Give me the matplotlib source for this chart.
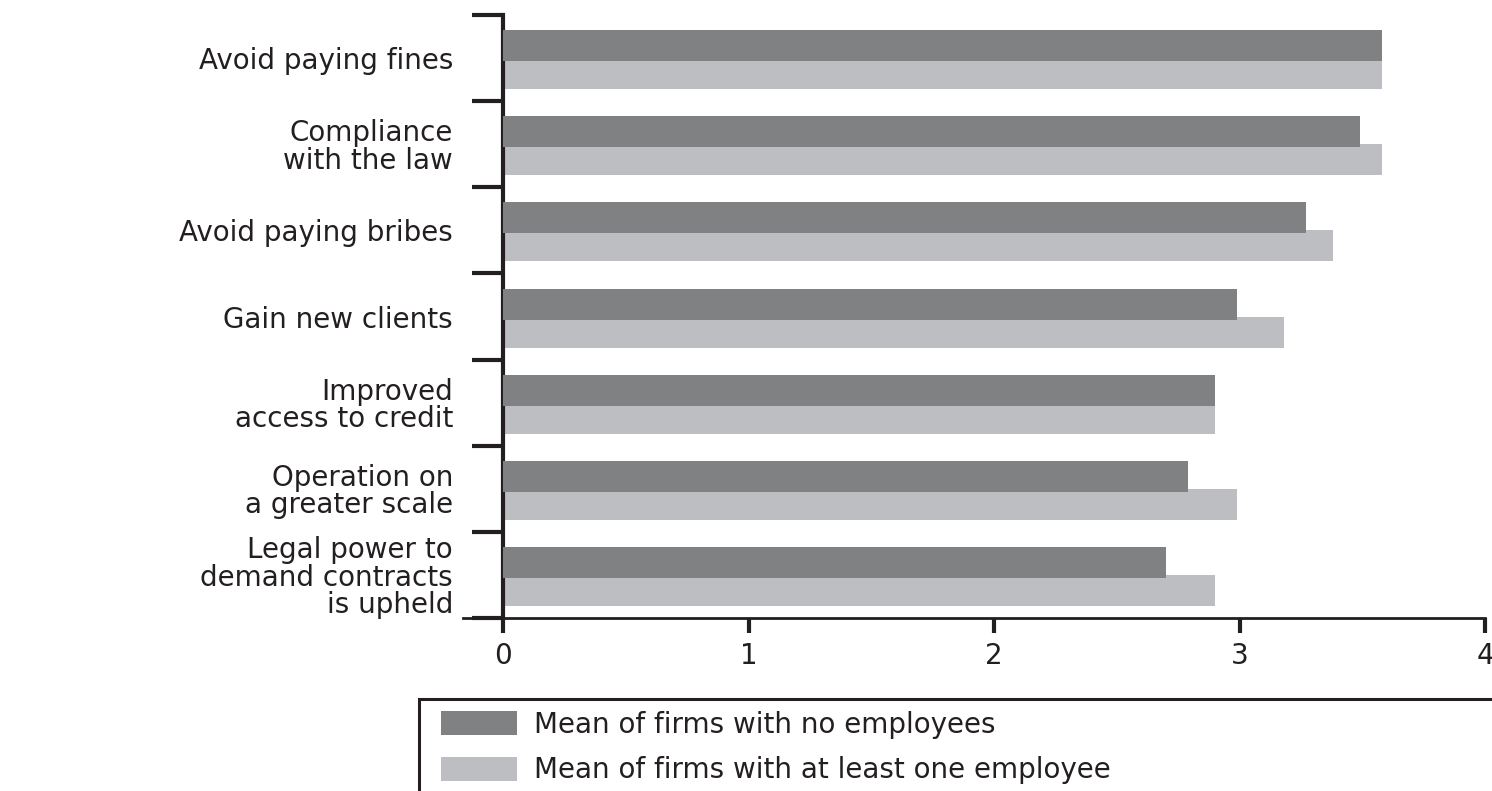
import matplotlib
matplotlib.use("Agg")
import matplotlib.pyplot as plt
from matplotlib.patches import Rectangle
import numpy as np

# Reasons for registering a business: mean scores by firm size
categories = [
    "Avoid paying fines",
    "Compliance\nwith the law",
    "Avoid paying bribes",
    "Gain new clients",
    "Improved\naccess to credit",
    "Operation on\na greater scale",
    "Legal power to\ndemand contracts\nis upheld",
]
no_employees = [3.58, 3.49, 3.27, 2.99, 2.90, 2.79, 2.70]
with_employees = [3.58, 3.58, 3.38, 3.18, 2.90, 2.99, 2.90]
series_labels = [
    "Mean of firms with no employees",
    "Mean of firms with at least one employee",
]
x_ticks = [0, 1, 2, 3, 4]

DARK = "#808183"
LIGHT = "#bdbec2"
INK = "#231f20"
FS = 20

plt.rcParams["font.family"] = ["DejaVu Sans"]

W, H = 1492, 791
fig = plt.figure(figsize=(W / 100, H / 100), dpi=100)
ax = fig.add_axes([503 / W, 1 - 618 / H, (1485 - 503) / W, (618 - 15) / H])

y = np.arange(len(categories))
bar_h = 0.36
ax.barh(y + 0.18, with_employees, height=bar_h, color=LIGHT,
        label=series_labels[1], zorder=2)
ax.barh(y - 0.145, no_employees, height=bar_h, color=DARK,
        label=series_labels[0], zorder=3)

ax.set_xlim(0, 4)
ax.set_ylim(len(categories) - 0.5, -0.5)

# Category boundaries carry the tick marks; labels sit at category centres
ax.set_yticks(np.arange(-0.5, len(categories), 1.0))
ax.set_yticklabels([])
ax.set_yticks(y, minor=True)
ax.set_yticklabels(categories, minor=True, fontsize=FS, color=INK,
                   linespacing=0.98, ha="right")
ax.tick_params(axis="y", which="major", direction="out", length=22,
               width=3, color=INK, left=True)
ax.tick_params(axis="y", which="minor", length=0, pad=36)

ax.set_xticks(x_ticks)
ax.set_xticklabels([str(t) for t in x_ticks], fontsize=FS, color=INK)
ax.tick_params(axis="x", direction="out", length=11, width=3, color=INK,
               pad=6)

for side in ("top", "right"):
    ax.spines[side].set_visible(False)
ax.spines["left"].set_linewidth(3)
ax.spines["left"].set_color(INK)
ax.spines["bottom"].set_linewidth(2)
ax.spines["bottom"].set_color(INK)
ax.spines["bottom"].set_bounds(-0.163, 4)

# Legend frame runs off the right and bottom edges
fig.patches.append(Rectangle((419 / W, -0.05), 1.0, (1 - 699 / H) + 0.05,
                             transform=fig.transFigure, fill=False,
                             edgecolor=INK, linewidth=2.2))

handles, labels = ax.get_legend_handles_labels()
fig.legend(handles[::-1], labels[::-1], loc="upper left",
           bbox_to_anchor=(441 / W, 1 - 711 / H), frameon=False,
           fontsize=FS, handlelength=2.75, handleheight=0.95,
           handletextpad=0.6, labelspacing=0.62, borderpad=0,
           borderaxespad=0, labelcolor=INK)

fig.savefig("out.png", dpi=100)
